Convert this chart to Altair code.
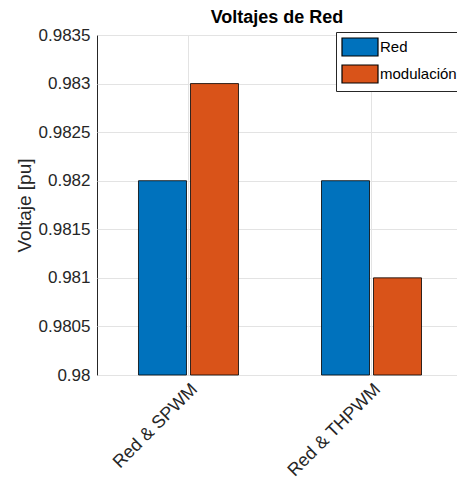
import altair as alt
import pandas as pd

categories = ["Red & SPWM", "Red & THPWM"]
series = ["Red", "modulación"]
red_values = [0.982, 0.982]
mod_values = [0.983, 0.981]
y_ticks = [0.98, 0.9805, 0.981, 0.9815, 0.982, 0.9825, 0.983, 0.9835]
colors = ["#0072BD", "#D95319"]

rows = []
for c, r, m in zip(categories, red_values, mod_values):
    rows.append({"cat": c, "serie": series[0], "v": r})
    rows.append({"cat": c, "serie": series[1], "v": m})
df = pd.DataFrame(rows)

FONT = "Liberation Sans"
TXT = "#262626"

chart = alt.Chart(df).mark_bar(stroke="black", strokeWidth=0.8).encode(
    x=alt.X(
        "cat:N",
        sort=categories,
        title=None,
        scale=alt.Scale(paddingInner=0.4536, paddingOuter=0.2103, align=0.539),
        axis=alt.Axis(
            labelAngle=315,
            labelAlign="right",
            labelBaseline="top",
            labelFontSize=18,
            labelColor=TXT,
            labelFont=FONT,
            labelPadding=5,
            ticks=False,
            domain=False,
            grid=True,
            gridColor="#e3e3e3",
            bandPosition=0.5,
        ),
    ),
    xOffset=alt.XOffset(
        "serie:N", sort=series, scale=alt.Scale(paddingInner=0.077, paddingOuter=0)
    ),
    y=alt.Y(
        "v:Q",
        title="Voltaje [pu]",
        scale=alt.Scale(domain=[0.98, 0.9835], zero=False, nice=False),
        axis=alt.Axis(
            values=y_ticks,
            format=".4~f",
            labelFontSize=17,
            labelColor=TXT,
            labelFont=FONT,
            labelPadding=7,
            ticks=False,
            domain=False,
            grid=True,
            gridColor="#e3e3e3",
            titleFontSize=19,
            titleFontWeight="normal",
            titleFont=FONT,
            titleColor=TXT,
            titlePadding=4,
        ),
    ),
    y2=alt.datum(0.98),
    color=alt.Color(
        "serie:N",
        sort=series,
        scale=alt.Scale(domain=series, range=colors),
        legend=alt.Legend(
            title=None,
            orient="none",
            legendX=239,
            legendY=-3,
            symbolType="M-1,-1H3V1H-1Z",
            symbolSize=324,
            symbolStrokeColor="black",
            symbolStrokeWidth=1.2,
            symbolOpacity=1,
            labelFontSize=15,
            labelFont=FONT,
            labelColor="black",
            labelOffset=19,
            rowPadding=3,
            padding=5,
            strokeColor="#262626",
            fillColor="white",
        ),
    ),
).properties(
    width=360,
    height=340,
    title=alt.Title(
        "Voltajes de Red",
        fontSize=18,
        fontWeight="bold",
        font=FONT,
        color="black",
        offset=2,
        dy=3,
    ),
    autosize=alt.AutoSizeParams(type="none"),
    padding={"left": 89, "top": 27, "right": 0, "bottom": 108},
).configure_view(
    stroke="#262626", strokeWidth=1
)

chart.save("out.html", embed_options={"renderer": "svg", "actions": False})
